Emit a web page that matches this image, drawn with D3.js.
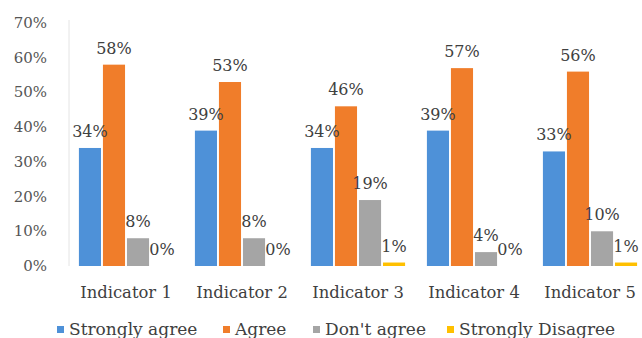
<!DOCTYPE html>
<html lang="en">
	<head>
		<meta charset="utf-8">
		<title>Indicators</title>
		<script src="https://d3js.org/d3.v7.min.js"></script>
		<style>
			body { margin: 0; background: #fff; }
			text { font-family: "DejaVu Serif", serif; }
		</style>
	</head>

	<body>
		<script type="text/javascript">

			// data
			var categories = ["Indicator 1", "Indicator 2", "Indicator 3", "Indicator 4", "Indicator 5"]
			var seriesNames = ["Strongly agree", "Agree", "Don't agree", "Strongly Disagree"]
			var stronglyAgree = [34, 39, 34, 39, 33]
			var agree = [58, 53, 46, 57, 56]
			var dontAgree = [8, 8, 19, 4, 10]
			var stronglyDisagree = [0, 0, 1, 0, 1]
			var yTicks = [0, 10, 20, 30, 40, 50, 60, 70]
			var colors = ["#4e91d8", "#f07d2a", "#a5a5a5", "#ffc000"]

			var allSeries = [stronglyAgree, agree, dontAgree, stronglyDisagree]

			// window setup
			var w = 642
			var h = 338

			var svg = d3.select("body")
						.append("svg")
						.attr("width", w)
						.attr("height", h)

			// scales
			var x0 = d3.scaleBand()
						.domain(categories)
						.range([68, 648])
						.paddingInner(0.155)
						.paddingOuter(0.0775)

			var x1 = d3.scaleBand()
						.domain(d3.range(seriesNames.length))
						.range([0, x0.bandwidth()])
						.padding(0.08)

			var y = d3.scaleLinear()
						.domain([0, 70])
						.range([266, 23])

			// y axis labels + line
			svg.append("line")
				.attr("x1", 69).attr("x2", 69)
				.attr("y1", y(70) - 3).attr("y2", y(0))
				.attr("stroke", "#e4e4e4")

			svg.selectAll(".ytick")
				.data(yTicks)
				.enter()
				.append("text")
				.attr("class", "ytick")
				.attr("x", 47)
				.attr("y", function(d){ return y(d) + 5 })
				.attr("text-anchor", "end")
				.attr("font-size", 15)
				.attr("fill", "#555")
				.text(function(d){ return d + "%" })

			// bars
			var groups = svg.selectAll(".grp")
				.data(categories)
				.enter()
				.append("g")
				.attr("class", "grp")
				.attr("transform", function(d){ return "translate(" + x0(d) + ",0)" })

			groups.selectAll("rect")
				.data(function(d, i){
					return allSeries.map(function(s, k){ return {k: k, v: s[i]} })
				})
				.enter()
				.append("rect")
				.attr("x", function(d){ return x1(d.k) })
				.attr("width", x1.bandwidth())
				.attr("y", function(d){ return y(d.v) })
				.attr("height", function(d){ return y(0) - y(d.v) })
				.style("fill", function(d){ return colors[d.k] })

			groups.selectAll(".lbl")
				.data(function(d, i){
					return allSeries.map(function(s, k){ return {k: k, v: s[i]} })
				})
				.enter()
				.append("text")
				.attr("class", "lbl")
				.attr("x", function(d){ return x1(d.k) + x1.bandwidth() / 2 })
				.attr("y", function(d){ return y(d.v) - 11 })
				.attr("text-anchor", "middle")
				.attr("font-size", 16)
				.attr("fill", "#404040")
				.text(function(d){ return d.v + "%" })

			// x labels
			svg.selectAll(".xlbl")
				.data(categories)
				.enter()
				.append("text")
				.attr("class", "xlbl")
				.attr("x", function(d){ return x0(d) + x0.bandwidth() / 2 })
				.attr("y", 298)
				.attr("text-anchor", "middle")
				.attr("font-size", 16.4)
				.attr("fill", "#404040")
				.text(function(d){ return d })

			// legend
			var legendX = [57, 223, 313, 447]
			var legend = svg.selectAll(".leg")
				.data(seriesNames)
				.enter()
				.append("g")
				.attr("class", "leg")
				.attr("transform", function(d, i){ return "translate(" + legendX[i] + ",330)" })

			legend.append("rect")
				.attr("x", 0).attr("y", -4)
				.attr("width", 7).attr("height", 7)
				.style("fill", function(d, i){ return colors[i] })

			legend.append("text")
				.attr("x", 12)
				.attr("y", 5)
				.attr("font-size", 17)
				.attr("fill", "#404040")
				.text(function(d){ return d })

		</script>
	</body>
</html>
